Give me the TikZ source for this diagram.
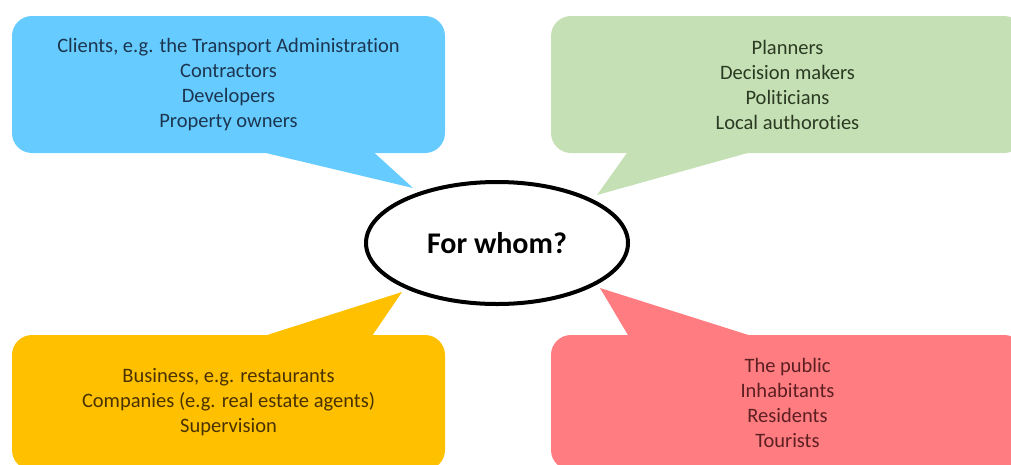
\documentclass[tikz,border=0pt]{standalone}
\usepackage{fontspec}
\setmainfont[Ligatures=NoCommon]{Carlito}
\usetikzlibrary{shapes.geometric}
\definecolor{bluefill}{HTML}{66CCFF}
\definecolor{greenfill}{HTML}{C5E0B4}
\definecolor{yellowfill}{HTML}{FFC000}
\definecolor{redfill}{HTML}{FF7C80}
\definecolor{bluetext}{HTML}{1C3550}
\definecolor{greentext}{HTML}{2B3A22}
\definecolor{yellowtext}{HTML}{4A3200}
\definecolor{redtext}{HTML}{5C1F22}
\begin{document}
\begin{tikzpicture}[x=1pt,y=-1pt,
    bubble/.style={rounded corners=20pt,align=center,inner sep=0pt,
      font=\fontsize{20.5}{25}\selectfont},
    leftbox/.style={bubble,minimum width=433pt},
    rightbox/.style={bubble,minimum width=473pt},
    upper/.style={minimum height=137pt},
    lower/.style={minimum height=135pt},
    centre/.style={ellipse,draw,line width=4pt,fill=white,inner sep=0pt,
      minimum width=262pt,minimum height=122pt,
      font=\fontsize{30}{36}\selectfont\bfseries}]
        \clip (0,0) rectangle (1011,464);
        \node[leftbox,upper,fill=bluefill,text=bluetext]     at (228.5,84.5) (clients) {Clients, e.g. the Transport Administration\\Contractors\\Developers\\Property owners};
        \node[rightbox,upper,fill=greenfill,text=greentext]  at (787.5,84.5) (planners) {Planners\\Decision makers\\Politicians\\Local authoroties};
        \node[leftbox,lower,fill=yellowfill,text=yellowtext] at (228.5,402.5) (business) {Business, e.g. restaurants\\Companies (e.g. real estate agents)\\Supervision};
        \node[rightbox,lower,fill=redfill,text=redtext]      at (787.5,402.5) (public) {The public\\Inhabitants\\Residents\\Tourists};
        \coordinate (tipA) at (413,188);
        \coordinate (tipB) at (597,195);
        \coordinate (tipC) at (402,292);
        \coordinate (tipD) at (600,288);
        \fill[bluefill]   ([xshift=255pt]clients.south west)  -- ([xshift=363pt]clients.south west)  -- (tipA) -- cycle;
        \fill[greenfill]  ([xshift=76pt]planners.south west)  -- ([xshift=196pt]planners.south west) -- (tipB) -- cycle;
        \fill[yellowfill] ([xshift=256pt]business.north west) -- ([xshift=361pt]business.north west) -- (tipC) -- cycle;
        \fill[redfill]    ([xshift=77pt]public.north west)    -- ([xshift=197pt]public.north west)   -- (tipD) -- cycle;
        \node[centre] at (497,243) (whom) {For whom?};
      \end{tikzpicture}
\end{document}
